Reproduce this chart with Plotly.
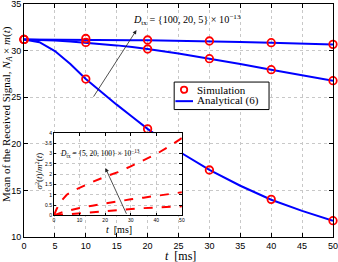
import plotly.graph_objects as go

# ---------------- data ----------------
t_sim = [0, 10, 20, 30, 40, 50]
sim_D100 = [31.2, 31.3, 31.14, 31.03, 30.85, 30.67]
sim_D20 = [31.2, 30.88, 30.17, 29.13, 27.95, 26.77]
sim_D5 = [31.2, 26.95, 21.6, 17.19, 14.04, 11.75]

t_ana = [0, 2.5, 5, 7.5, 10, 12.5, 15, 17.5, 20, 25, 30, 35, 40, 45, 50]
ana_D100 = [31.2, 31.2, 31.19, 31.18, 31.17, 31.15, 31.14, 31.12, 31.1, 31.06, 31.0, 30.93, 30.85, 30.76, 30.66]
ana_D20 = [31.2, 31.17, 31.08, 30.97, 30.85, 30.72, 30.56, 30.38, 30.18, 29.7, 29.15, 28.56, 27.95, 27.35, 26.75]
ana_D5 = [31.2, 30.9, 29.95, 28.55, 26.95, 25.55, 24.2, 22.9, 21.6, 19.2, 17.2, 15.5, 14.0, 12.8, 11.75]

t_in = [0, 1, 2.5, 5, 7.5, 10, 15, 20, 25, 30, 35, 40, 45, 50]
var_D5 = [0, 0.3, 0.65, 1.0, 1.2, 1.35, 1.62, 1.88, 2.1, 2.38, 2.66, 2.98, 3.35, 3.76]
var_D20 = [0, 0.05, 0.12, 0.2, 0.28, 0.36, 0.47, 0.58, 0.7, 0.78, 0.86, 0.95, 1.03, 1.12]
var_D100 = [0, 0.01, 0.03, 0.06, 0.09, 0.11, 0.16, 0.22, 0.28, 0.31, 0.35, 0.38, 0.41, 0.44]

x_ticks = [0, 5, 10, 15, 20, 25, 30, 35, 40, 45, 50]
y_ticks = [10, 15, 20, 25, 30, 35]
xin_ticks = [0, 10, 20, 30, 40, 50]
yin_ticks = [0, 0.5, 1, 1.5, 2, 2.5, 3, 3.5, 4]
yin_labels = ["0", "0.5", "1", "1.5", "2", "2.5", "3", "3.5", "4"]

legend_labels = ["Simulation", "Analytical (6)"]

BLUE = "#0000FF"
RED = "#FF0000"
SERIF = "Liberation Serif"
SANS = "Liberation Sans"

fig = go.Figure()

# analytical lines
for ys in [ana_D100, ana_D20, ana_D5]:
    fig.add_trace(go.Scatter(x=t_ana, y=ys, mode="lines", line=dict(color=BLUE, width=2),
                             name=legend_labels[1], showlegend=False, xaxis="x", yaxis="y"))
# simulation markers
for ys in [sim_D100, sim_D20, sim_D5]:
    fig.add_trace(go.Scatter(x=t_sim, y=ys, mode="markers", cliponaxis=False,
                             marker=dict(symbol="circle-open", color=RED, size=7.5, line=dict(width=1.8)),
                             name=legend_labels[0], showlegend=False, xaxis="x", yaxis="y"))

# inset
for ys in [var_D5, var_D20, var_D100]:
    fig.add_trace(go.Scatter(x=t_in, y=ys, mode="lines", line=dict(color=RED, width=2, dash="dash"),
                             showlegend=False, xaxis="x2", yaxis="y2"))

axis_common = dict(showline=True, linecolor="black", linewidth=1, mirror="ticks",
                   ticks="inside", tickcolor="black", showgrid=True, gridcolor="#c8c8c8",
                   griddash="dot", gridwidth=1, zeroline=False, automargin=False,
                   ticklabeloverflow="allow")

# legend geometry (paper coordinates)
LX0, LX1, LY0, LY1 = 0.486, 0.793, 0.547, 0.665
shapes = [
    dict(type="rect", xref="paper", yref="paper", x0=LX0, x1=LX1, y0=LY0, y1=LY1,
         fillcolor="white", line=dict(color="black", width=1), layer="above"),
    dict(type="circle", xref="paper", yref="paper", xsizemode="pixel", ysizemode="pixel",
         xanchor=0.518, yanchor=0.632, x0=-3.2, x1=3.2, y0=-3.2, y1=3.2,
         line=dict(color=RED, width=1.8), layer="above"),
    dict(type="line", xref="paper", yref="paper", x0=0.490, x1=0.547, y0=0.583, y1=0.583,
         line=dict(color=BLUE, width=2), layer="above"),
]

ann = [
    dict(x=0.553, y=0.632, xref="paper", yref="paper", xanchor="left", yanchor="middle",
         showarrow=False, text=legend_labels[0], font=dict(family=SERIF, size=11, color="black")),
    dict(x=0.553, y=0.585, xref="paper", yref="paper", xanchor="left", yanchor="middle",
         showarrow=False, text=legend_labels[1], font=dict(family=SERIF, size=11, color="black")),
    # axis titles
    dict(x=0.508, y=-0.08, xref="paper", yref="paper", xanchor="center", yanchor="middle",
         showarrow=False, text="<i>t</i>  [ms]", font=dict(family=SERIF, size=12, color="black")),
    dict(x=-0.057, y=0.53, xref="paper", yref="paper", xanchor="center", yanchor="middle", textangle=-90,
         showarrow=False,
         text="Mean of the Received Signal, <i>N</i><sub><i>A</i></sub> × <i>m</i>(<i>t</i>)",
         font=dict(family=SERIF, size=11, color="black")),
    # inset titles
    dict(x=0.307, y=(237 - 229) / 233, xref="paper", yref="paper", xanchor="center", yanchor="middle",
         showarrow=False, text="<i>t</i>  [ms]", font=dict(family=SERIF, size=10, color="black")),
    dict(x=(38.5 - 24) / 309, y=(237 - 171) / 233, xref="paper", yref="paper", xanchor="center",
         yanchor="middle", textangle=-90, showarrow=False,
         text="<i>σ</i><sup>2</sup>(<i>t</i>)/<i>m</i><sup>2</sup>(<i>t</i>)",
         font=dict(family=SERIF, size=9, color="black")),
    # arrows and labels
    dict(x=18.2, y=32.2, ax=11.1, ay=24.9, xref="x", yref="y", axref="x", ayref="y",
         showarrow=True, arrowhead=2, arrowsize=1, arrowwidth=0.8, arrowcolor="#222", text=""),
    dict(x=26.4, y=33.3, xref="x", yref="y", showarrow=False,
         text="<i>D</i><sub>tx</sub> = {100, 20, 5} × 10<sup>−13</sup>",
         font=dict(family=SERIF, size=10.2, color="black")),
    dict(x=20.1, y=2.3, ax=28.6, ay=0.0, xref="x2", yref="y2", axref="x2", ayref="y2",
         showarrow=True, arrowhead=2, arrowsize=1, arrowwidth=0.8, arrowcolor="#222", text=""),
    dict(x=17.8, y=3.03, xref="x2", yref="y2", showarrow=False,
         text="<i>D</i><sub>tx</sub> = {5, 20, 100} × 10<sup>−13</sup>",
         font=dict(family=SERIF, size=7.5, color="black")),
]

fig.update_layout(
    width=338, height=262,
    margin=dict(l=24, r=5, t=4, b=25),
    paper_bgcolor="white", plot_bgcolor="white",
    showlegend=False,
    xaxis=dict(domain=[0, 1], range=[0, 50], tickvals=x_ticks, ticklen=4,
               tickfont=dict(family=SANS, size=9, color="black"), **axis_common),
    yaxis=dict(domain=[0, 1], range=[10, 35], tickvals=y_ticks, ticklen=4,
               tickfont=dict(family=SANS, size=9, color="black"), **axis_common),
    xaxis2=dict(domain=[0.097, 0.511], anchor="y2", range=[0, 50], tickvals=xin_ticks, ticklen=2.5,
                tickfont=dict(family=SANS, size=5, color="black"), **axis_common),
    yaxis2=dict(domain=[0.093, 0.446], anchor="x2", range=[0, 4], tickvals=yin_ticks, ticktext=yin_labels,
                ticklen=2.5, tickfont=dict(family=SANS, size=5, color="black"), **axis_common),
    shapes=shapes,
    annotations=ann,
)

fig.write_html("out.html",
               config={"displayModeBar": False},
               post_script="document.body.style.margin='0';document.body.style.padding='0';"
                           "document.body.style.overflow='hidden';")
